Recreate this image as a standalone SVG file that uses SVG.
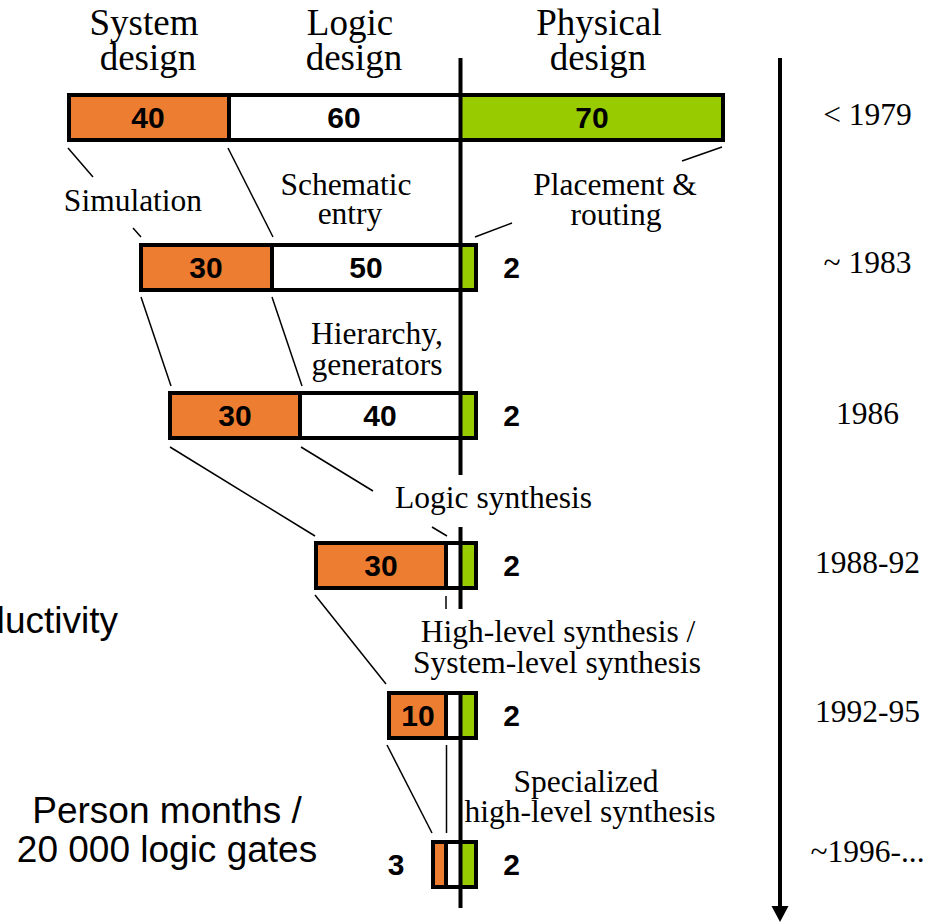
<svg xmlns="http://www.w3.org/2000/svg" width="936" height="922" viewBox="0 0 936 922">
  <style>
    .serif { font-family: "Liberation Serif", "Times New Roman", serif; fill: #000; text-anchor: middle; }
    .head { font-size: 37px; }
    .lbl { font-size: 31.5px; }
    .num { font-family: "Liberation Sans", Arial, sans-serif; font-weight: bold; font-size: 30px; fill: #000; text-anchor: middle; }
    .sans { font-family: "Liberation Sans", Arial, sans-serif; font-size: 37px; fill: #000; text-anchor: middle; }
    .sys { fill: #ED7D31; }
    .log { fill: #FFFFFF; }
    .phy { fill: #99CC00; }
    .frame { fill: none; stroke: #000; stroke-width: 4; }
    .div { stroke: #000; stroke-width: 4; }
    .thin { stroke: #000; stroke-width: 1.5; fill: none; }
    .axis { stroke: #000; stroke-width: 4; fill: none; }
  </style>

  <rect x="0" y="0" width="936" height="922" fill="#FFFFFF"/>

  <!-- column headings -->
  <g id="headings">
    <text class="serif head" x="144" y="35">System</text>
    <text class="serif head" x="148" y="70">design</text>
    <text class="serif head" x="350" y="35">Logic</text>
    <text class="serif head" x="354" y="70">design</text>
    <text class="serif head" x="599" y="35">Physical</text>
    <text class="serif head" x="598" y="70">design</text>
  </g>

  <!-- bar: < 1979 -->
  <g id="bar-1979">
    <rect class="sys" x="69" y="95" width="160" height="45"/>
    <rect class="log" x="229" y="95" width="231" height="45"/>
    <rect class="phy" x="460" y="95" width="263" height="45"/>
    <rect class="frame" x="69" y="95" width="654" height="45"/>
    <line class="div" x1="229" y1="95" x2="229" y2="140"/>
    <text class="num" x="148" y="128">40</text>
    <text class="num" x="344" y="128">60</text>
    <text class="num" x="592" y="128">70</text>
  </g>

  <!-- bar: ~ 1983 -->
  <g id="bar-1983">
    <rect class="sys" x="141" y="245" width="131" height="45"/>
    <rect class="log" x="272" y="245" width="188" height="45"/>
    <rect class="phy" x="460" y="245" width="16" height="45"/>
    <rect class="frame" x="141" y="245" width="335" height="45"/>
    <line class="div" x1="272" y1="245" x2="272" y2="290"/>
    <text class="num" x="206" y="278">30</text>
    <text class="num" x="366" y="278">50</text>
    <text class="num" x="511.5" y="278">2</text>
  </g>

  <!-- bar: 1986 -->
  <g id="bar-1986">
    <rect class="sys" x="170" y="393" width="130" height="45"/>
    <rect class="log" x="300" y="393" width="160" height="45"/>
    <rect class="phy" x="460" y="393" width="16" height="45"/>
    <rect class="frame" x="170" y="393" width="306" height="45"/>
    <line class="div" x1="300" y1="393" x2="300" y2="438"/>
    <text class="num" x="235" y="426">30</text>
    <text class="num" x="380" y="426">40</text>
    <text class="num" x="511.5" y="426">2</text>
  </g>

  <!-- bar: 1988-92 -->
  <g id="bar-1988">
    <rect class="sys" x="316" y="543" width="130" height="45"/>
    <rect class="log" x="446" y="543" width="14" height="45"/>
    <rect class="phy" x="460" y="543" width="16" height="45"/>
    <rect class="frame" x="316" y="543" width="160" height="45"/>
    <line class="div" x1="446" y1="543" x2="446" y2="588"/>
    <text class="num" x="381" y="576">30</text>
    <text class="num" x="511.5" y="576">2</text>
  </g>

  <!-- bar: 1992-95 -->
  <g id="bar-1992">
    <rect class="sys" x="389" y="693" width="57" height="45"/>
    <rect class="log" x="446" y="693" width="14" height="45"/>
    <rect class="phy" x="460" y="693" width="16" height="45"/>
    <rect class="frame" x="389" y="693" width="87" height="45"/>
    <line class="div" x1="446" y1="693" x2="446" y2="738"/>
    <text class="num" x="418" y="726">10</text>
    <text class="num" x="511.5" y="726">2</text>
  </g>

  <!-- bar: ~1996 -->
  <g id="bar-1996">
    <rect class="sys" x="433" y="842" width="13" height="45"/>
    <rect class="log" x="446" y="842" width="14" height="45"/>
    <rect class="phy" x="460" y="842" width="16" height="45"/>
    <rect class="frame" x="433" y="842" width="43" height="45"/>
    <line class="div" x1="446" y1="842" x2="446" y2="887"/>
    <text class="num" x="396" y="875">3</text>
    <text class="num" x="511.5" y="875">2</text>
  </g>

  <!-- projection lines between bars, and the logic/physical boundary -->
  <g id="connectors">
    <line class="thin" x1="68" y1="148" x2="93" y2="177"/>
    <line class="thin" x1="133" y1="228" x2="141" y2="237"/>
    <line class="thin" x1="228" y1="148" x2="273" y2="237"/>
    <line class="thin" x1="722" y1="147" x2="682" y2="161"/>
    <line class="thin" x1="512" y1="223" x2="475" y2="237"/>
    <line class="thin" x1="141" y1="297" x2="171" y2="386"/>
    <line class="thin" x1="272" y1="297" x2="302" y2="386"/>
    <line class="thin" x1="170" y1="447" x2="315" y2="536"/>
    <line class="thin" x1="301" y1="447" x2="373" y2="491"/>
    <line class="thin" x1="432" y1="527" x2="447" y2="536"/>
    <line class="thin" x1="315" y1="595" x2="386" y2="684"/>
    <line class="thin" x1="446" y1="596" x2="446" y2="609"/>
    <line class="thin" x1="387" y1="745" x2="432" y2="833"/>
    <line class="thin" x1="446.5" y1="745" x2="446.5" y2="833"/>
    <line class="axis" x1="460.5" y1="58" x2="460.5" y2="475"/>
    <line class="axis" x1="460.5" y1="527" x2="460.5" y2="609"/>
    <line class="axis" x1="460.5" y1="691" x2="460.5" y2="908"/>
    <line class="axis" x1="780" y1="58" x2="780" y2="908"/>
    <polygon points="771.5,906 788.5,906 780,922" fill="#000"/>
  </g>

  <!-- tool labels -->
  <g id="labels">
    <text class="serif lbl" x="133" y="210.5">Simulation</text>
    <text class="serif lbl" x="346" y="195">Schematic</text>
    <text class="serif lbl" x="350" y="224">entry</text>
    <text class="serif lbl" x="615" y="195">Placement &amp;</text>
    <text class="serif lbl" x="616" y="225">routing</text>
    <text class="serif lbl" x="377" y="344">Hierarchy,</text>
    <text class="serif lbl" x="377" y="375">generators</text>
    <text class="serif lbl" x="493.5" y="508">Logic synthesis</text>
    <text class="serif lbl" x="558" y="642">High-level synthesis /</text>
    <text class="serif lbl" x="557" y="673">System-level synthesis</text>
    <text class="serif lbl" x="586" y="792">Specialized</text>
    <text class="serif lbl" x="590" y="822">high-level synthesis</text>
  </g>

  <!-- time axis labels -->
  <g id="years">
    <text class="serif lbl" x="867.5" y="125">&lt; 1979</text>
    <text class="serif lbl" x="867.5" y="273">~ 1983</text>
    <text class="serif lbl" x="867.5" y="424">1986</text>
    <text class="serif lbl" x="867.5" y="573">1988-92</text>
    <text class="serif lbl" x="867.5" y="722">1992-95</text>
    <text class="serif lbl" x="867.5" y="862">~1996-...</text>
  </g>

  <!-- left captions -->
  <g id="captions">
    <text class="sans" x="118" y="633" style="text-anchor:end">ductivity</text>
    <text class="sans" x="167" y="823">Person months /</text>
    <text class="sans" x="167" y="862">20 000 logic gates</text>
  </g>
</svg>
